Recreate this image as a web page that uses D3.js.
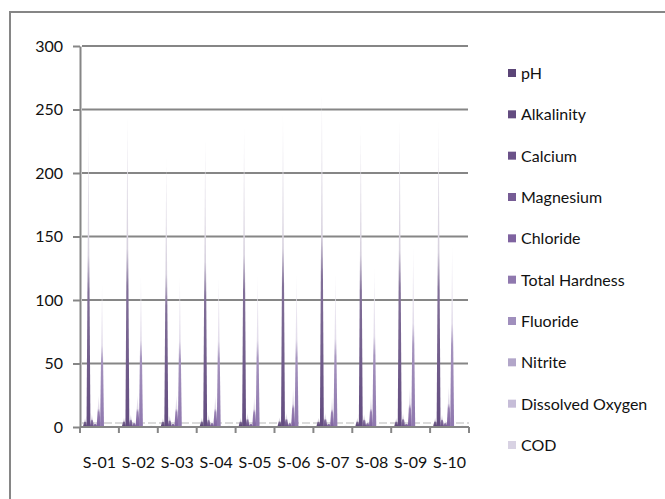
<!DOCTYPE html>
<html>
<head>
<meta charset="utf-8">
<script src="https://cdn.jsdelivr.net/npm/d3@7"></script>
<style>
  body { margin: 0; background: #fff; }
  text { font-family: Lato, "Open Sans", sans-serif; fill: #111; }
</style>
</head>
<body>
<svg></svg>
<script>
const samples = ["S-01", "S-02", "S-03", "S-04", "S-05", "S-06", "S-07", "S-08", "S-09", "S-10"]
const seriesNames = ["pH", "Alkalinity", "Calcium", "Magnesium", "Chloride", "Total Hardness",
    "Fluoride", "Nitrite", "Dissolved Oxygen", "COD"]
const seriesColors = ["#5b4577", "#634c80", "#6b5289", "#765c95", "#7f63a0", "#8f78ae",
    "#a08fbd", "#b2a6c9", "#c6bdd8", "#d8d2e3"]

// values, one array per parameter
const pH = [7.2, 7.4, 7.1, 7.5, 7.3, 7.6, 7.2, 7.4, 7.3, 7.5]
const alkalinity = [237, 245, 211, 227, 236, 246, 263, 237, 243, 241]
const calcium = [10, 10, 9, 10, 11, 11, 11, 10, 11, 10]
const magnesium = [4, 5, 4, 5, 4, 5, 4, 5, 4, 5]
const chloride = [25, 25, 25, 25, 24, 31, 24, 25, 31, 32]
const totalHardness = [112, 119, 118, 118, 119, 120, 121, 125, 142, 142]
const fluoride = [0.8, 0.9, 0.7, 0.8, 0.9, 0.8, 0.7, 0.9, 0.8, 0.8]
const nitrite = [0.1, 0.1, 0.2, 0.1, 0.1, 0.2, 0.1, 0.1, 0.2, 0.1]
const dissolvedOxygen = [1.2, 1.4, 1.1, 1.3, 1.2, 1.4, 1.3, 1.2, 1.1, 1.3]
const cod = [1.0, 1.1, 0.9, 1.0, 1.2, 1.0, 0.9, 1.1, 1.0, 1.2]

const yTicks = [0, 50, 100, 150, 200, 250, 300]

const allValues = [pH, alkalinity, calcium, magnesium, chloride, totalHardness,
    fluoride, nitrite, dissolvedOxygen, cod]

const width = 665
const height = 499
const plot = { left: 80, right: 469, top: 46, bottom: 427 }

let svg = d3.select("svg")
    .attr("width", width)
    .attr("height", height)

svg.append("rect")
    .attr("width", width).attr("height", height)
    .attr("fill", "#fff")

// outer chart border, runs off the right and bottom edges
svg.append("rect")
    .attr("x", 10).attr("y", 12)
    .attr("width", 700).attr("height", 520)
    .attr("fill", "none")
    .attr("stroke", "#868686")
    .attr("stroke-width", 2)

const xCat = d3.scaleBand()
    .domain(samples)
    .range([plot.left, plot.right])

const xSub = d3.scaleBand()
    .domain(seriesNames)
    .range([3.4, 37.3])

const yScale = d3.scaleLinear()
    .domain([0, 300])
    .range([plot.bottom, plot.top])

// horizontal gridlines
svg.append("g")
    .selectAll("line")
    .data(yTicks.filter(d => d > 0))
    .enter()
    .append("line")
    .attr("x1", plot.left + 2)
    .attr("x2", plot.right - 1)
    .attr("y1", d => yScale(d))
    .attr("y2", d => yScale(d))
    .attr("stroke", "#868686")
    .attr("stroke-width", 2)

// y axis
const yAxis = svg.append("g")
    .attr("transform", "translate(" + plot.left + ",0)")
    .call(d3.axisLeft(yScale).tickValues(yTicks).tickSize(7).tickSizeOuter(0).tickPadding(10))
yAxis.select(".domain").attr("stroke", "#868686").attr("stroke-width", 2)
yAxis.selectAll(".tick line").attr("stroke", "#868686").attr("stroke-width", 2)
yAxis.selectAll(".tick text").style("font-size", "16px").style("font-family", "Lato")

// floor line (dashed) just above the axis
svg.append("line")
    .attr("x1", plot.left + 2).attr("x2", plot.right)
    .attr("y1", yScale(0) - 4).attr("y2", yScale(0) - 4)
    .attr("stroke", "#cfcfcf")
    .attr("stroke-width", 1.5)
    .attr("stroke-dasharray", "8,3")

// gradients: cones fade out towards the tip
const defs = svg.append("defs")
seriesNames.forEach(function (name, i) {
    const g = defs.append("linearGradient")
        .attr("id", "cone" + i)
        .attr("x1", 0).attr("y1", 1).attr("x2", 0).attr("y2", 0)
    const c = seriesColors[i]
    g.append("stop").attr("offset", "0%").attr("stop-color", c)
    g.append("stop").attr("offset", "45%").attr("stop-color", d3.interpolateRgb(c, "#fff")(0.2))
    g.append("stop").attr("offset", "57%").attr("stop-color", d3.interpolateRgb(c, "#fff")(0.75))
    g.append("stop").attr("offset", "100%").attr("stop-color", d3.interpolateRgb(c, "#fff")(0.9))
})

// cones
const data = []
samples.forEach(function (s, j) {
    seriesNames.forEach(function (name, i) {
        data.push({ sample: s, series: name, idx: i, value: allValues[i][j] })
    })
})

const bw = xSub.bandwidth() * 1.15
svg.append("g")
    .selectAll("path")
    .data(data)
    .enter()
    .append("path")
    .attr("d", function (d) {
        const cx = xCat(d.sample) + xSub(d.series) + xSub.bandwidth() / 2
        const y0 = yScale(0) - 1
        const y1 = yScale(d.value)
        return "M" + (cx - bw / 2) + "," + y0 + "L" + cx + "," + y1 + "L" + (cx + bw / 2) + "," + y0 + "Z"
    })
    .attr("fill", d => "url(#cone" + d.idx + ")")

// x axis
svg.append("line")
    .attr("x1", plot.left).attr("x2", plot.right)
    .attr("y1", yScale(0)).attr("y2", yScale(0))
    .attr("stroke", "#868686")
    .attr("stroke-width", 2)

svg.append("g")
    .selectAll("line")
    .data(samples.map(s => xCat(s)).concat([plot.right]))
    .enter()
    .append("line")
    .attr("x1", d => d).attr("x2", d => d)
    .attr("y1", yScale(0)).attr("y2", yScale(0) + 6)
    .attr("stroke", "#868686")
    .attr("stroke-width", 2)

const xAxis = svg.append("g")
    .attr("transform", "translate(0," + yScale(0) + ")")
    .call(d3.axisBottom(xCat).tickSize(0).tickPadding(30))
xAxis.select(".domain").remove()
xAxis.selectAll(".tick text").style("font-size", "16px").style("font-family", "Lato")

// legend
const legendY = d3.scalePoint()
    .domain(seriesNames)
    .range([73, 445])

const legend = svg.append("g")
    .selectAll("g")
    .data(seriesNames)
    .enter()
    .append("g")
    .attr("transform", d => "translate(508," + legendY(d) + ")")

legend.append("rect")
    .attr("x", 0).attr("y", -4)
    .attr("width", 8).attr("height", 8)
    .attr("fill", (d, i) => seriesColors[i])

legend.append("text")
    .attr("x", 13)
    .attr("y", 6)
    .style("font-size", "16px")
    .text(d => d)
</script>
</body>
</html>
